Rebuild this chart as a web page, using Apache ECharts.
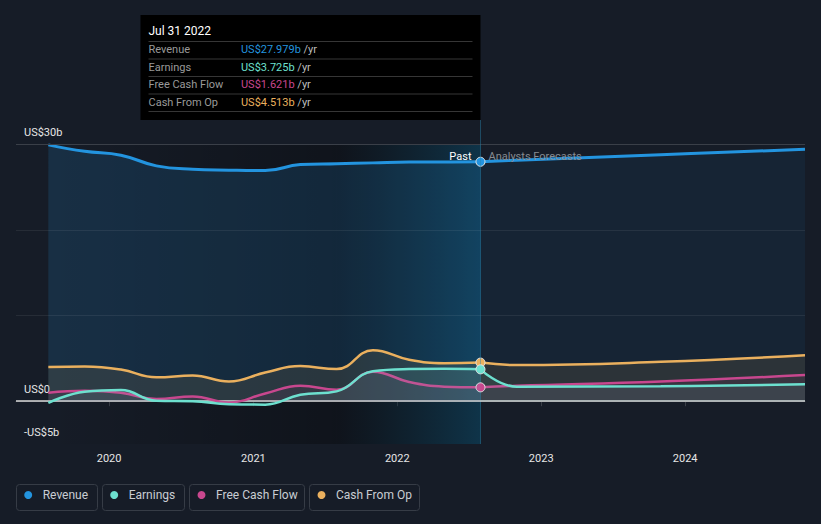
<!DOCTYPE html>
<html><head><meta charset="utf-8">
<script src="https://cdn.jsdelivr.net/npm/echarts@6/dist/echarts.min.js"></script>
<style>html,body{margin:0;padding:0;background:#161c27;}#c{width:821px;height:524px;}</style>
</head><body><div id="c"></div>
<script>
// ---- data ----
const pastDates = ['2019-07-31','2019-10-31','2020-01-31','2020-04-30','2020-07-31','2020-10-31','2021-01-31','2021-04-30','2021-07-31','2021-10-31','2022-01-31','2022-04-30','2022-07-31'];
const forecastDates = ['2022-07-31','2022-10-31','2023-10-31','2024-10-31'];
const revenuePast = [29.95, 29.2, 28.75, 27.5, 27.1, 27.0, 26.95, 27.65, 27.75, 27.85, 27.95, 27.95, 27.979];
const revenueForecast = [27.979, 28.15, 28.8, 29.44];
const earningsPast = [-0.2, 1.1, 1.3, 0.05, 0.0, -0.35, -0.4, 0.75, 1.15, 3.5, 3.75, 3.78, 3.725];
const earningsForecast = [3.725, 1.7, 1.75, 1.97];
const fcfPast = [1.0, 1.23, 1.0, 0.25, 0.55, -0.15, 0.9, 1.8, 1.35, 3.45, 2.25, 1.7, 1.621];
const fcfForecast = [1.621, 1.8, 2.3, 3.05];
const cfoPast = [3.99, 4.05, 3.7, 2.8, 3.0, 2.3, 3.35, 4.1, 3.75, 5.95, 4.85, 4.45, 4.513];
const cfoForecast = [4.513, 4.22, 4.6, 5.37];
const seriesNames = ['Revenue', 'Earnings', 'Free Cash Flow', 'Cash From Op'];
const yTickLabels = {'30': 'US$30b', '0': 'US$0', '-5': '-US$5b'};
const gridValues = [30, 20, 10];
const highlightStart = '2021-07-31';
const tooltipTitle = 'Jul 31 2022';
const pastLabel = 'Past';
const forecastLabel = 'Analysts Forecasts';

// ---- styles ----
const colors = ['#2394df', '#6de0cf', '#c8478e', '#eab05e'];
const areaAlpha = [0.23, 0.13, 0.12, 0.15];
const forecastAreaAlpha = [0.1, 0.13, 0.12, 0.15];
const FONT = 'Roboto, "Noto Sans", sans-serif';
const pastSets = [revenuePast, earningsPast, fcfPast, cfoPast];
const fcSets = [revenueForecast, earningsForecast, fcfForecast, cfoForecast];
const nowDate = pastDates[pastDates.length - 1];

function rgba(hex, a) {
  const n = parseInt(hex.slice(1), 16);
  return `rgba(${n >> 16},${(n >> 8) & 255},${n & 255},${a})`;
}

const chart = echarts.init(document.getElementById('c'), null, {renderer: 'svg'});

const series = [];
// background bands
series.push({
  type: 'line', name: '_bands', data: [], z: 1, silent: true,
  markArea: {
    silent: true,
    data: [
      [{xAxis: pastDates[0], yAxis: -5, itemStyle: {color: {type: 'linear', x: 0, y: 0, x2: 1, y2: 0, colorStops: [{offset: 0, color: 'rgba(0,0,0,0)'}, {offset: 1, color: 'rgba(0,0,0,0.3)'}]}}},
       {xAxis: highlightStart, yAxis: 30}],
      [{xAxis: highlightStart, yAxis: -5, itemStyle: {color: {type: 'linear', x: 0, y: 0, x2: 1, y2: 0, colorStops: [{offset: 0, color: 'rgba(0,0,0,0.3)'}, {offset: 1, color: 'rgba(5,85,120,0.42)'}]}}},
       {xAxis: nowDate, yAxis: 30}]
    ]
  },
  markLine: {
    silent: true, symbol: 'none', label: {show: false},
    data: gridValues.map(v => ({yAxis: v, lineStyle: {color: v === 30 ? '#3a3f48' : 'rgba(255,255,255,0.07)', width: 1, type: 'solid'}}))
      .concat([{xAxis: nowDate, lineStyle: {color: 'rgba(40,130,170,0.45)', width: 1, type: 'solid'}}])
  }
});

seriesNames.forEach((name, i) => {
  const past = pastDates.map((d, k) => {
    const last = k === pastDates.length - 1;
    return last ? {value: [d, pastSets[i][k]], symbol: 'circle', symbolSize: 9} : {value: [d, pastSets[i][k]], symbol: 'none'};
  });
  series.push({
    type: 'line', name, data: past, smooth: 0.45, z: 3 + (i === 0 ? 0 : 4 - i),
    showSymbol: true, symbol: 'none',
    lineStyle: {color: colors[i], width: i === 0 ? 3 : 2.5},
    itemStyle: {color: colors[i], borderColor: '#e6e6e6', borderWidth: 1},
    areaStyle: {color: rgba(colors[i], areaAlpha[i]), origin: 0},
    emphasis: {disabled: true}, silent: true
  });
  series.push({
    type: 'line', name, data: forecastDates.map((d, k) => [d, fcSets[i][k]]), smooth: 0.45, z: 2 + (i === 0 ? 0 : 4 - i),
    showSymbol: false,
    lineStyle: {color: colors[i], width: i === 0 ? 3 : 2.5},
    itemStyle: {color: colors[i]},
    areaStyle: {color: rgba(colors[i], forecastAreaAlpha[i]), origin: 0},
    emphasis: {disabled: true}, silent: true
  });
});
// zero line on top
series.push({
  type: 'line', name: '_zero', data: [], z: 10, silent: true,
  markLine: {silent: true, symbol: 'none', label: {show: false},
    data: [{yAxis: 0, lineStyle: {color: '#d8d8d8', width: 1.5, type: 'solid'}}]}
});

const legendLeft = [24.2, 110.2, 197.5, 317.5];
const legends = seriesNames.map((n, i) => ({
  data: [n], left: legendLeft[i], top: 489, icon: 'circle', itemWidth: 15, itemHeight: 8,
  padding: 0, itemGap: 0, selectedMode: false,
  itemStyle: {borderWidth: 0},
  textStyle: {color: '#c9cdd3', fontSize: 12, fontFamily: FONT, padding: [0, 0, 0, 2]}
}));

const option = {
  backgroundColor: '#161c27',
  animation: false,
  color: colors,
  grid: {left: 16, right: 16, top: 120, bottom: 80, containLabel: false},
  legend: legends,
  tooltip: {show: false},
  xAxis: {
    type: 'time', min: '2019-05-10', max: '2024-10-31',
    minInterval: 365 * 86400000, maxInterval: 366 * 86400000,
    axisLine: {show: true, lineStyle: {color: '#3a3f48', width: 1}},
    axisTick: {show: true, length: 5, lineStyle: {color: '#3a3f48'}},
    splitLine: {show: false},
    axisLabel: {
      color: '#e6e6e6', fontSize: 11, fontFamily: FONT, margin: 9,
      showMinLabel: false, showMaxLabel: false,
      formatter: v => { const d = new Date(v); return (d.getMonth() === 0 && d.getDate() === 1) ? String(d.getFullYear()) : ''; }
    }
  },
  yAxis: {
    type: 'value', min: -5, max: 32.86, interval: 5,
    splitLine: {show: false}, axisLine: {show: false}, axisTick: {show: false},
    axisLabel: {
      inside: true, margin: 8, verticalAlign: 'bottom', padding: [0, 0, 6, 0],
      color: '#e6e6e6', fontSize: 11, fontFamily: FONT,
      formatter: v => yTickLabels[String(v)] || ''
    }
  },
  series
};
chart.setOption(option);

// annotations anchored on the "now" point
const nowPx = chart.convertToPixel({gridIndex: 0}, [nowDate, revenuePast[revenuePast.length - 1]]);
const nx = nowPx[0];
const boxW = 340, boxTop = 15, boxH = 105;
const bx = nx - boxW;
const rows = seriesNames.map((n, i) => ({name: n, val: pastSets[i][pastSets[i].length - 1], color: colors[i]}));
const g = [
  {type: 'rect', shape: {x: bx, y: boxTop, width: boxW, height: boxH}, style: {fill: '#000000'}, z: 100},
  {type: 'text', x: bx + 8, y: 31, style: {text: tooltipTitle, fill: '#ffffff', font: `12px ${FONT}`, verticalAlign: 'middle'}, z: 101}
];
const sepY = [41, 58.5, 76, 93.5, 111];
sepY.forEach(y => g.push({type: 'rect', shape: {x: bx + 8, y: y, width: boxW - 16, height: 1}, style: {fill: '#363636'}, z: 101}));
rows.forEach((r, i) => {
  const cy = 49.7 + i * 17.5;
  g.push({type: 'text', x: bx + 8, y: cy, style: {text: r.name, fill: '#9a9a9a', font: `11px ${FONT}`, verticalAlign: 'middle'}, z: 101});
  g.push({type: 'text', x: bx + 100.5, y: cy, style: {
    text: `{v|US$${r.val.toFixed(3)}b} {u|/yr}`, verticalAlign: 'middle', font: `11px ${FONT}`,
    rich: {v: {fill: r.color, font: `11px ${FONT}`}, u: {fill: '#bdbdbd', font: `11px ${FONT}`}}
  }, z: 101});
});
g.push({type: 'text', x: nx - 9, y: nowPx[1] - 5, style: {text: pastLabel, fill: '#ffffff', font: `11px ${FONT}`, align: 'right', verticalAlign: 'middle'}, z: 50});
g.push({type: 'text', x: nx + 8, y: nowPx[1] - 5, style: {text: forecastLabel, fill: '#868b92', font: `11px ${FONT}`, align: 'left', verticalAlign: 'middle'}, z: 50});
const boxes = [[16, 97], [102, 184], [189, 304], [309, 419]];
boxes.forEach(b => g.push({type: 'rect', shape: {x: b[0] + 0.5, y: 484.5, width: b[1] - b[0], height: 26, r: 3}, style: {fill: 'none', stroke: '#363c46', lineWidth: 1}, z: 0}));
chart.setOption({graphic: g});
</script>
</body></html>
